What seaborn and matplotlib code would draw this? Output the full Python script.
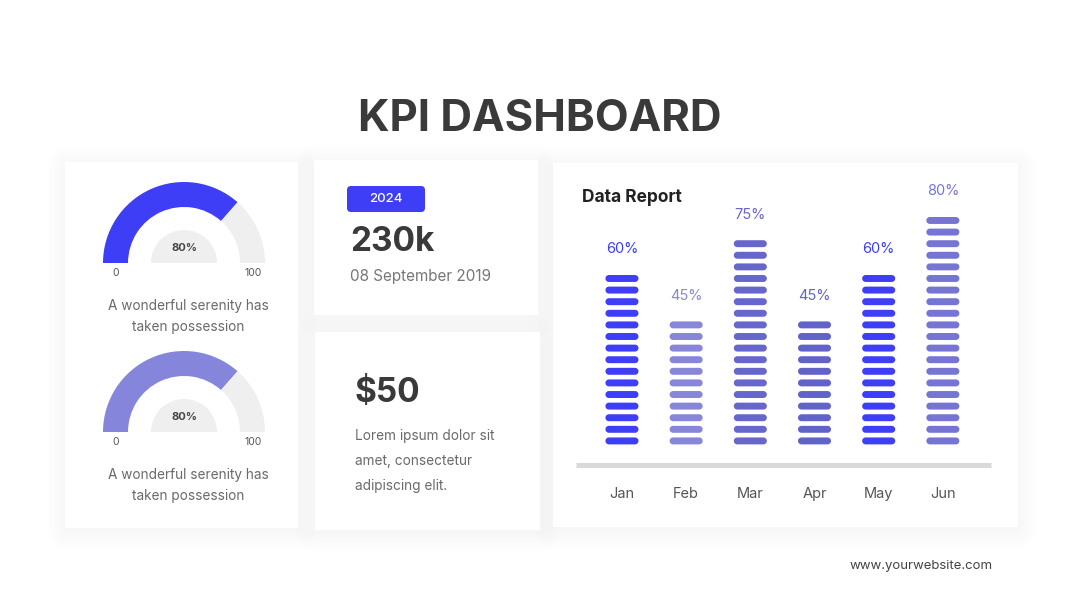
import numpy as np
import pandas as pd
import matplotlib
matplotlib.use("Agg")
import matplotlib.pyplot as plt
import seaborn as sns
from matplotlib.patches import FancyBboxPatch, Rectangle, Wedge
from matplotlib.path import Path
from matplotlib.markers import MarkerStyle

# ---- data ----
months = ["Jan", "Feb", "Mar", "Apr", "May", "Jun"]
month_values = [60, 45, 75, 45, 60, 80]
month_colors = ["#3d3ef5", "#8786d8", "#6766cc", "#6263c9", "#3d3ef5", "#7675d3"]
dash_step = 4  # one dash = 4 %

gauge_fill = [73, 73]          # arc as drawn in the picture
gauge_labels = ["80%", "80%"]
gauge_colors = ["#3d3ef5", "#8585dc"]
gauge_min, gauge_max = "0", "100"
gauge_caption = ["A wonderful serenity has", "taken possession"]

year_badge = "2024"
visitors = "230k"
date_text = "08 September 2019"
price = "$50"
price_note = ["Lorem ipsum dolor sit", "amet, consectetur", "adipiscing elit."]

# ---- style ----
sns.set_theme(style="white")
plt.rcParams["font.family"] = ["Inter", "DejaVu Sans"]
DARK = "#3a3a3a"
GREY = "#6a6a6a"
TRACK = "#efefef"

fig = plt.figure(figsize=(10.8, 6.08), dpi=100)
fig.patch.set_facecolor("white")

# background canvas in pixel coordinates
bg = fig.add_axes([0, 0, 1, 1])
bg.set_xlim(0, 1080)
bg.set_ylim(608, 0)
bg.axis("off")


def card(x0, y0, x1, y1):
    # soft shadow
    for i in range(8):
        pad = 1 + i * 2.5
        bg.add_patch(FancyBboxPatch((x0 - pad, y0 - pad + 3), x1 - x0 + 2 * pad, y1 - y0 + 2 * pad,
                                    boxstyle=f"round,pad=0,rounding_size={pad + 2}",
                                    fc="black", ec="none", alpha=0.0035, zorder=0))
    bg.add_patch(Rectangle((x0, y0), x1 - x0, y1 - y0, fc="white", ec="none", zorder=1))


card(65, 162, 298, 528)
card(314, 160, 538, 315)
card(315, 332, 540, 530)
card(553, 163, 1018, 527)

bg.text(540, 115, "KPI DASHBOARD", ha="center", va="center_baseline", fontsize=31.5,
        fontweight="bold", color=DARK)

# ---- gauges ----
for i, (fill, lab, col) in enumerate(zip(gauge_fill, gauge_labels, gauge_colors)):
    cx, cy = 184, 263 + i * 169
    end = 180 + 180 * fill / 100  # y axis is flipped, so angles run clockwise
    bg.add_patch(Wedge((cx, cy), 81, 180, end, width=25, fc=col, ec="none", zorder=2))
    bg.add_patch(Wedge((cx, cy), 81, end, 360, width=25, fc=TRACK, ec="none", zorder=2))
    bg.add_patch(Wedge((cx, cy), 33, 180, 360, fc=TRACK, ec="none", zorder=2))
    bg.text(cx, cy - 15, lab, ha="center", va="center", fontsize=8, fontweight="bold",
            color="#444444", zorder=3)
    bg.text(116, cy + 10, gauge_min, ha="center", va="center", fontsize=7.5, color="#555555", zorder=3)
    bg.text(253, cy + 10, gauge_max, ha="center", va="center", fontsize=7.5, color="#555555", zorder=3)
    for j, line in enumerate(gauge_caption):
        bg.text(188, cy + 43 + j * 21, line, ha="center", va="center", fontsize=9.8,
                color=GREY, zorder=3)

# ---- date / visitors card ----
bg.add_patch(FancyBboxPatch((347, 186), 78, 26, boxstyle="round,pad=0,rounding_size=4",
                            fc="#3d3ef5", ec="none", zorder=2))
bg.text(386, 199, year_badge, ha="center", va="center", fontsize=9.5, fontweight="medium",
        color="white", zorder=3)
bg.text(350, 242, visitors, ha="left", va="center", fontsize=24, fontweight="bold",
        color=DARK, zorder=3)
bg.text(350, 277, date_text, ha="left", va="center", fontsize=11, color="#777777", zorder=3)

# ---- price card ----
bg.text(354, 393, price, ha="left", va="center", fontsize=24, fontweight="bold",
        color=DARK, zorder=3)
for j, line in enumerate(price_note):
    bg.text(355, 436 + j * 25, line, ha="left", va="center", fontsize=9.8, color=GREY, zorder=3)

# ---- data report ----
bg.text(582, 197, "Data Report", ha="left", va="center", fontsize=12.5, fontweight="bold",
        color="#222222", zorder=3)
bg.text(993, 566, "www.yourwebsite.com", ha="right", va="center", fontsize=9.5,
        color="#444444", zorder=3)

rows = []
for m, v in zip(months, month_values):
    for k in range(v // dash_step):
        rows.append({"month": m, "level": k * dash_step})
dash_df = pd.DataFrame(rows)

# rounded dash marker
r = 0.21
t = np.linspace(-np.pi / 2, np.pi / 2, 14)
right = np.column_stack([1 - r + r * np.cos(t), r * np.sin(t)])
left = np.column_stack([-1 + r - r * np.cos(t), -r * np.sin(t)])
verts = np.vstack([right, left, right[:1]])
capsule = MarkerStyle(Path(verts, closed=True))

ax = fig.add_axes([576 / 1080, (608 - 465) / 608, (991 - 576) / 1080, (465 - 170) / 608])
ax.patch.set_alpha(0)
sns.scatterplot(data=dash_df, x="month", y="level", hue="month",
                palette=dict(zip(months, month_colors)), marker=capsule, s=565,
                linewidth=0, legend=False, ax=ax, zorder=3)

for i, (v, c) in enumerate(zip(month_values, month_colors)):
    top = (v // dash_step - 1) * dash_step
    ax.text(i, top + 10, f"{v}%", ha="center", va="center", fontsize=10.5, color=c)

ax.set_xlim(-0.716, 5.75)
ax.set_ylim(-8.3, 93.4)
ax.set_xlabel("")
ax.set_ylabel("")
ax.set_yticks([])
for side in ["top", "left", "right"]:
    ax.spines[side].set_visible(False)
ax.spines["bottom"].set_color("#d9d9d9")
ax.spines["bottom"].set_linewidth(3.6)
ax.spines["bottom"].set_capstyle("butt")
ax.tick_params(axis="x", length=0, pad=16, labelsize=10.5, labelcolor="#555555")

fig.savefig("out.png", dpi=100, facecolor="white")
